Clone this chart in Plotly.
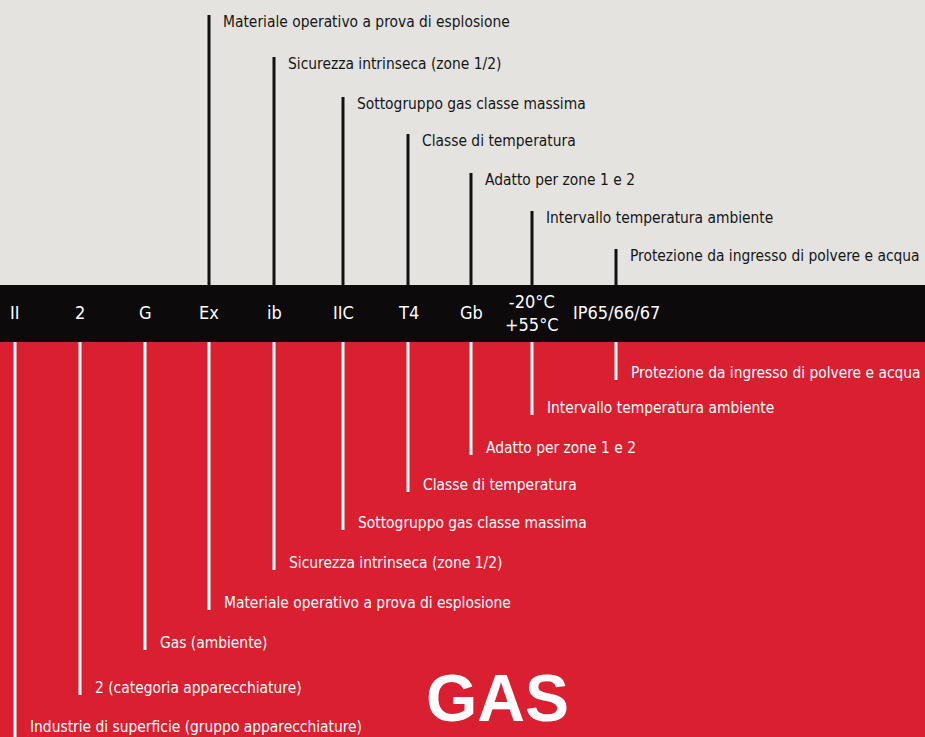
import plotly.graph_objects as go

# ---- data ----
codes = ["II", "2", "G", "Ex", "ib", "IIC", "T4", "Gb", "-20°C<br>+55°C", "IP65/66/67"]
code_x = [15, 80, 145, 209, 274, 343, 408, 471, 532, 616]
descriptions = [
    "Industrie di superficie (gruppo apparecchiature)",
    "2 (categoria apparecchiature)",
    "Gas (ambiente)",
    "Materiale operativo a prova di esplosione",
    "Sicurezza intrinseca (zone 1/2)",
    "Sottogruppo gas classe massima",
    "Classe di temperatura",
    "Adatto per zone 1 e 2",
    "Intervallo temperatura ambiente",
    "Protezione da ingresso di polvere e acqua",
]
# codes which are also explained above the band (indices)
top_items = [3, 4, 5, 6, 7, 8, 9]
top_line_y = [15, 57, 97, 134, 173, 211, 249]
bottom_line_y = [737, 695, 650, 610, 570, 530, 492, 455, 415, 380]
title_text = "GAS"

W, H = 925, 737
BAND_TOP, BAND_BOT = 285, 342
FONT = "DejaVu Sans Condensed, DejaVu Sans, sans-serif"
BIG_FONT = "Liberation Sans, Arial, sans-serif"

fig = go.Figure()

# top black leader lines
tx, ty = [], []
for i, yt in zip(top_items, top_line_y):
    tx += [code_x[i], code_x[i], None]
    ty += [yt, BAND_TOP, None]
fig.add_trace(go.Scatter(x=tx, y=ty, mode="lines",
                         line=dict(color="#111111", width=3), hoverinfo="skip"))

# bottom white leader lines
bx, by = [], []
for xv, yb in zip(code_x, bottom_line_y):
    bx += [xv, xv, None]
    by += [BAND_BOT, yb, None]
fig.add_trace(go.Scatter(x=bx, y=by, mode="lines",
                         line=dict(color="#ffffff", width=3), hoverinfo="skip"))

annotations = []
# top labels
for i, yt in zip(top_items, top_line_y):
    annotations.append(dict(x=code_x[i], y=yt + 7, text=descriptions[i],
                            xanchor="left", yanchor="middle", xshift=12,
                            showarrow=False,
                            font=dict(family=FONT, size=15.4, color="#161616")))
# bottom labels
for k, (xv, yb, d) in enumerate(zip(code_x, bottom_line_y, descriptions)):
    yl = yb - 7 if k > 0 else yb - 10
    annotations.append(dict(x=xv, y=yl, text=d,
                            xanchor="left", yanchor="middle", xshift=13,
                            showarrow=False,
                            font=dict(family=FONT, size=15.4, color="#ffffff")))
# codes in band
for xv, c in zip(code_x, codes):
    annotations.append(dict(x=xv, y=(BAND_TOP + BAND_BOT) / 2 - 1, text=c,
                            xanchor="center", yanchor="middle", showarrow=False,
                            font=dict(family=FONT, size=18, color="#ffffff")))
# big title
annotations.append(dict(x=497, y=698, text="<b>" + title_text + "</b>",
                        xanchor="center", yanchor="middle", showarrow=False,
                        font=dict(family=BIG_FONT, size=66, color="#ffffff")))

shapes = [
    dict(type="rect", x0=0, x1=W, y0=0, y1=BAND_TOP, fillcolor="#e4e3e0",
         line=dict(width=0), layer="below"),
    dict(type="rect", x0=0, x1=W, y0=BAND_TOP, y1=BAND_BOT, fillcolor="#0c0a0b",
         line=dict(width=0), layer="below"),
    dict(type="rect", x0=0, x1=W, y0=BAND_BOT, y1=H, fillcolor="#da1f30",
         line=dict(width=0), layer="below"),
]

fig.update_layout(
    width=W, height=H,
    margin=dict(l=0, r=0, t=0, b=0),
    paper_bgcolor="#da1f30", plot_bgcolor="#da1f30",
    showlegend=False,
    xaxis=dict(range=[0, W], visible=False, fixedrange=True),
    yaxis=dict(range=[H, 0], visible=False, fixedrange=True),
    shapes=shapes,
    annotations=annotations,
)

fig.write_html("out.html", config={"displayModeBar": False},
               post_script="document.body.style.margin='0px';document.body.style.overflow='hidden';")
